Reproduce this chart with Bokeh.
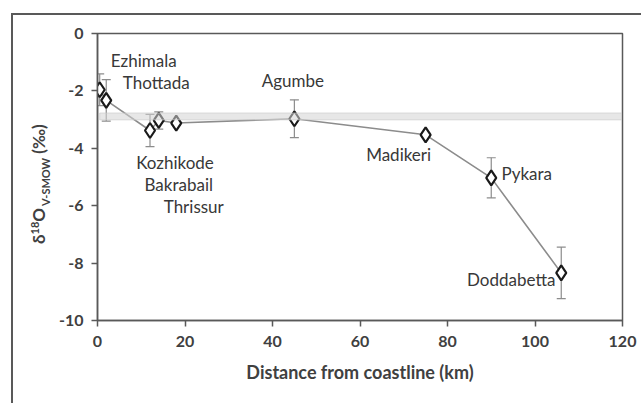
from bokeh.plotting import figure
from bokeh.models import ColumnDataSource, Whisker, TeeHead, FixedTicker, Range1d, Div
from bokeh.layouts import row
from bokeh.core.properties import value
from bokeh.embed import file_html
from bokeh.resources import INLINE

# ---- data ----
stations = ["Ezhimala", "Thottada", "Kozhikode", "Bakrabail", "Thrissur",
            "Agumbe", "Madikeri", "Pykara", "Doddabetta"]
distance_km = [0.5, 2, 12, 14, 18, 45, 75, 90, 106]
d18o = [-1.96, -2.33, -3.38, -3.03, -3.12, -2.97, -3.53, -5.03, -8.34]
err = [0.55, 0.72, 0.56, 0.3, 0.08, 0.66, 0.06, 0.7, 0.9]
band_low, band_high = -3.01, -2.77
band_x0, band_x1 = 0.5, 119.8
x_ticks = [0, 20, 40, 60, 80, 100, 120]
y_ticks = [0, -2, -4, -6, -8, -10]

# label offsets (screen px) relative to each point
lab_dx = [44, 50, 25, 20, 17.5, -1.5, -27, 35.5, -50]
lab_dy = [-29, -18, 32, 64, 83, -38, 20, -4, 7]

src = ColumnDataSource(dict(
    x=distance_km, y=d18o, name=stations,
    upper=[v + e for v, e in zip(d18o, err)],
    lower=[v - e for v, e in zip(d18o, err)],
    dx=lab_dx, dy=lab_dy,
))

DARK = "#595959"
TXT = "#404040"
DIV_W = 42

p = figure(frame_width=525, frame_height=287,
           min_border_left=84 - DIV_W, min_border_right=19,
           min_border_top=18, min_border_bottom=83,
           x_range=Range1d(0, 120), y_range=Range1d(-10, 0),
           output_backend="svg", toolbar_location=None)
p.background_fill_color = "white"
p.border_fill_color = "white"
p.outline_line_color = DARK
p.outline_line_width = 1.5
p.xgrid.visible = False
p.ygrid.visible = False

for ax in (p.xaxis[0], p.yaxis[0]):
    ax.axis_line_color = DARK
    ax.axis_line_width = 1.5
    ax.major_tick_line_color = DARK
    ax.major_tick_line_width = 1.5
    ax.major_tick_out = 6
    ax.major_tick_in = 0
    ax.minor_tick_line_color = None
    ax.major_label_text_font = "Lato"
    ax.major_label_text_font_style = "bold"
    ax.major_label_text_font_size = "16px"
    ax.major_label_text_color = TXT

p.xaxis.ticker = FixedTicker(ticks=x_ticks)
p.yaxis.ticker = FixedTicker(ticks=y_ticks)
p.yaxis.major_label_overrides = {t: str(t) for t in y_ticks}
p.xaxis.major_label_standoff = 9
p.yaxis.major_label_standoff = 8
p.xaxis.axis_label = "Distance from coastline (km)"
p.xaxis.axis_label_text_font = "Lato"
p.xaxis.axis_label_text_font_style = "bold"
p.xaxis.axis_label_text_font_size = "18px"
p.xaxis.axis_label_text_color = TXT
p.xaxis.axis_label_standoff = 11

# error bars
wh = Whisker(base="x", upper="upper", lower="lower", source=src,
             line_color="#8c8c8c", line_width=1.2,
             upper_head=TeeHead(size=9, line_color="#8c8c8c", line_width=1.2),
             lower_head=TeeHead(size=9, line_color="#8c8c8c", line_width=1.2))
p.add_layout(wh)

p.line("x", "y", source=src, line_color="#8c8c8c", line_width=1.6)
p.scatter("x", "y", source=src, marker="diamond", size=15,
          fill_color="white", line_color="#1a1a1a", line_width=2.2)

# reference band
p.quad(left=[band_x0], right=[band_x1], bottom=[band_low], top=[band_high],
       fill_color="#d4d4d4", fill_alpha=0.55, line_color="#c8c8c8", line_alpha=0.6, line_width=1)

p.text("x", "y", text="name", source=src, x_offset="dx", y_offset="dy",
       text_font=value("Lato"), text_font_size="17px", text_color="#383838",
       text_align="center", text_baseline="middle")

# rotated y-axis title with superscript / subscript
ylab_html = (
    '<div style="position:relative;width:%dpx;height:388px;">'
    '<div style="position:absolute;left:16px;top:229px;transform:rotate(-90deg);'
    'transform-origin:left top;white-space:nowrap;font-family:Lato;font-weight:bold;'
    'font-size:17px;line-height:20px;color:%s;">'
    'δ<span style="font-size:11px;position:relative;top:-6px;">18</span>O'
    '<span style="font-size:11px;position:relative;top:5px;margin-left:2px;">V-SMOW</span>'
    '&nbsp;(‰)</div></div>'
) % (DIV_W, TXT)
ylab = Div(text=ylab_html, width=DIV_W, height=388, margin=(0, 0, 0, 0))

layout = row(ylab, p, spacing=0)
layout.styles = {"margin-left": "11px", "margin-top": "13px",
                 "border-left": "2px solid #595959", "border-top": "2px solid #595959",
                 "background": "white"}

open("out.html", "w").write(file_html(layout, INLINE))
